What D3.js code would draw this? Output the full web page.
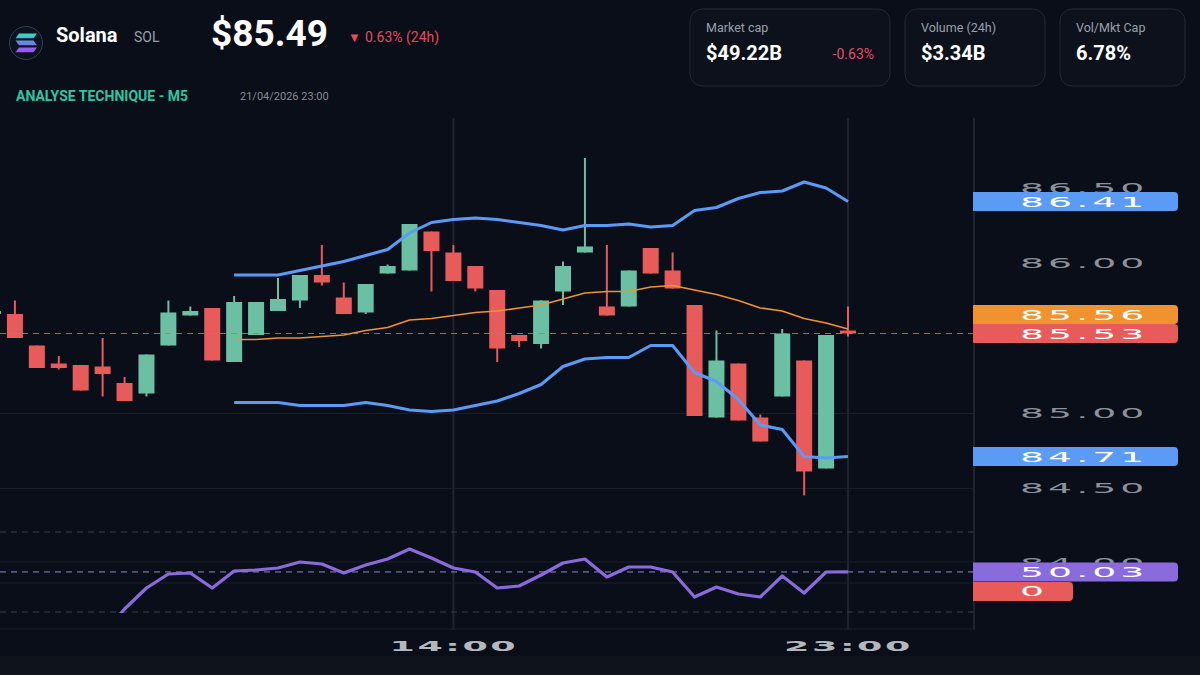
<!DOCTYPE html>
<html>
<head>
<meta charset="utf-8">
<script src="https://cdn.jsdelivr.net/npm/d3@7"></script>
<style>
  body { margin: 0; background: #0a0e18; overflow: hidden; }
  svg { display: block; font-family: Roboto, "Noto Sans", sans-serif; }
</style>
</head>
<body>
<div id="chart"></div>
<script>
const width = 1200;
const height = 675;

// candle times (30 min steps so that 14:00 and 23:00 land where the axis shows them)
const times = ["03:30","04:00","04:30","05:00","05:30","06:00","06:30","07:00","07:30","08:00",
  "08:30","09:00","09:30","10:00","10:30","11:00","11:30","12:00","12:30","13:00",
  "13:30","14:00","14:30","15:00","15:30","16:00","16:30","17:00","17:30","18:00",
  "18:30","19:00","19:30","20:00","20:30","21:00","21:30","22:00","22:30","23:00"];

const open  = [85.66,85.66,85.45,85.33,85.32,85.31,85.20,85.13,85.45,85.65,
  85.70,85.34,85.52,85.68,85.75,85.92,85.77,85.67,85.93,85.95,
  86.21,86.07,85.98,85.82,85.52,85.46,85.81,86.07,85.71,85.71,
  86.10,85.95,85.72,84.97,85.33,84.97,85.11,85.35,84.63,85.55];
const high  = [85.68,85.75,85.45,85.38,85.32,85.50,85.24,85.39,85.75,85.71,
  85.70,85.78,85.74,85.90,85.92,86.12,85.87,85.86,85.99,86.26,
  86.21,86.12,85.98,85.82,85.52,85.75,86.01,86.70,86.12,85.95,
  86.10,86.07,85.72,85.55,85.33,84.99,85.56,85.35,85.52,85.71];
const low   = [85.66,85.50,85.30,85.29,85.15,85.11,85.08,85.11,85.45,85.65,
  85.35,85.34,85.52,85.68,85.70,85.85,85.66,85.66,85.93,85.95,
  85.81,85.88,85.81,85.34,85.44,85.43,85.72,86.07,85.65,85.71,
  85.93,85.83,84.98,84.97,84.95,84.81,85.11,84.45,84.63,85.51];
const close = [85.68,85.50,85.30,85.30,85.15,85.26,85.08,85.39,85.67,85.68,
  85.35,85.74,85.74,85.76,85.92,85.87,85.66,85.86,85.98,86.26,
  86.08,85.88,85.83,85.43,85.48,85.75,85.98,86.11,85.65,85.95,
  85.93,85.83,84.98,85.35,84.95,84.81,85.53,84.61,85.52,85.53];

// Bollinger bands (start at 09:00)
const bbUpper = [null,null,null,null,null,null,null,null,null,null,null,
  85.92,85.92,85.92,85.95,85.98,86.01,86.05,86.09,86.20,86.27,
  86.29,86.30,86.29,86.27,86.25,86.22,86.25,86.25,86.26,86.24,
  86.25,86.35,86.37,86.43,86.47,86.48,86.54,86.50,86.41];
const bbMiddle = [null,null,null,null,null,null,null,null,null,null,null,
  85.49,85.49,85.50,85.50,85.51,85.52,85.55,85.57,85.62,85.63,
  85.65,85.67,85.68,85.70,85.72,85.76,85.80,85.81,85.81,85.84,
  85.85,85.82,85.79,85.75,85.70,85.68,85.63,85.60,85.56];
const bbLower = [null,null,null,null,null,null,null,null,null,null,null,
  85.07,85.07,85.07,85.05,85.05,85.05,85.07,85.05,85.02,85.01,
  85.02,85.05,85.08,85.13,85.19,85.31,85.36,85.37,85.37,85.45,
  85.45,85.27,85.21,85.09,84.92,84.89,84.71,84.70,84.71];

// RSI (starts at 06:00)
const rsi = [null,null,null,null,null,19,31.5,42,49,49.5,
  42,50.5,51,52,55,54,49.5,53.5,56.5,61.5,
  57,52,50,42,43,48.5,54.5,56.5,47.5,52.5,
  52.5,50,37.5,42.5,39,37.5,48,39.5,50,50.03];

const priceTicks = [84.0, 84.5, 85.0, 86.0, 86.5];
const gridTicks = [84.5, 85.0];
const timeTicks = ["14:00", "23:00"];

const cardLabels = ["Market cap", "Volume (24h)", "Vol/Mkt Cap"];
const cardValues = ["$49.22B", "$3.34B", "6.78%"];

const green = "#6bbfa3";
const red = "#e85b5b";
const blue = "#5b9bf6";
const orange = "#f0922e";
const purple = "#8a6bdc";

var svg = d3.select("#chart")
    .append("svg")
    .attr("width", width)
    .attr("height", height);

svg.append("rect").attr("width", width).attr("height", height).attr("fill", "#0a0e18");
svg.append("rect").attr("y", 656).attr("width", width).attr("height", 19).attr("fill", "#0f131c");

// ---------- header ----------
const defs = svg.append("defs");
const grad = defs.append("linearGradient")
    .attr("id", "solGrad")
    .attr("gradientUnits", "userSpaceOnUse")
    .attr("x1", 0).attr("y1", 33).attr("x2", 0).attr("y2", 53);
grad.append("stop").attr("offset", "0%").attr("stop-color", "#35e3b6");
grad.append("stop").attr("offset", "50%").attr("stop-color", "#6f7ff0");
grad.append("stop").attr("offset", "100%").attr("stop-color", "#a04ff4");

svg.append("circle").attr("cx", 26).attr("cy", 43).attr("r", 16.5)
    .attr("fill", "#0d1220").attr("stroke", "#3a3f4d").attr("stroke-width", 1);
const bars = [
    [[19, 33.5], [37, 33.5], [33.5, 38.3], [15.5, 38.3]],
    [[15.5, 40.5], [33.5, 40.5], [37, 45.3], [19, 45.3]],
    [[19, 47.5], [37, 47.5], [33.5, 52.3], [15.5, 52.3]]
];
svg.selectAll(".solbar").data(bars).join("polygon")
    .attr("points", d => d.map(p => p.join(",")).join(" "))
    .attr("fill", "url(#solGrad)");

svg.append("text").attr("x", 56).attr("y", 42)
    .attr("fill", "#ffffff").attr("font-size", 20).attr("font-weight", 700)
    .text("Solana");
svg.append("text").attr("x", 134).attr("y", 42)
    .attr("fill", "#9aa0aa").attr("font-size", 14)
    .text("SOL");
svg.append("text").attr("x", 211).attr("y", 46)
    .attr("fill", "#ffffff").attr("font-size", 37).attr("font-weight", 700)
    .text("$85.49");
svg.append("text").attr("x", 348).attr("y", 42)
    .attr("fill", "#e84a5f").attr("font-size", 13)
    .text("▼");
svg.append("text").attr("x", 365).attr("y", 42)
    .attr("fill", "#e84a5f").attr("font-size", 14)
    .text("0.63% (24h)");

svg.append("text").attr("x", 16).attr("y", 101)
    .attr("fill", "#2ec6a2").attr("font-size", 14.5).attr("font-weight", 700)
    .attr("textLength", 172).attr("lengthAdjust", "spacingAndGlyphs")
    .text("ANALYSE TECHNIQUE - M5");
svg.append("text").attr("x", 240).attr("y", 100)
    .attr("fill", "#858a94").attr("font-size", 11)
    .text("21/04/2026 23:00");

// stat cards
const cardX = [690, 905, 1060];
const cardW = [200, 140, 125];
const cards = svg.append("g").selectAll("g").data(cardLabels).join("g")
    .attr("transform", (d, i) => `translate(${cardX[i]},9)`);
cards.append("rect")
    .attr("width", (d, i) => cardW[i]).attr("height", 77).attr("rx", 12)
    .attr("fill", "#0c111c").attr("stroke", "#222836").attr("stroke-width", 1);
cards.append("text").attr("x", 16).attr("y", 23)
    .attr("fill", "#9aa0ab").attr("font-size", 12.5)
    .text(d => d);
cards.append("text").attr("x", 16).attr("y", 51)
    .attr("fill", "#ffffff").attr("font-size", 20).attr("font-weight", 700)
    .text((d, i) => cardValues[i]);
svg.append("text").attr("x", 874).attr("y", 59).attr("text-anchor", "end")
    .attr("fill", "#e0506a").attr("font-size", 14)
    .text("-0.63%");

// ---------- scales ----------
const x = d3.scalePoint().domain(times).range([-7, 848]);
const y = d3.scaleLinear().domain([84.5, 86.5]).range([488, 188]);
const yRsi = d3.scaleLinear().domain([30, 70]).range([612, 532]);

// ---------- grid / frame ----------
const grid = svg.append("g")
    .call(d3.axisLeft(y).tickValues(gridTicks).tickSize(-973).tickFormat(""));
grid.select(".domain").remove();
grid.selectAll("line").attr("stroke", "#1b1f29").attr("stroke-width", 1);

svg.append("g").selectAll("line").data(timeTicks).join("line")
    .attr("x1", d => x(d)).attr("x2", d => x(d))
    .attr("y1", 118).attr("y2", 630)
    .attr("stroke", "#20252f").attr("stroke-width", 2);

svg.append("line").attr("x1", 974).attr("x2", 974).attr("y1", 118).attr("y2", 630)
    .attr("stroke", "#1e232d").attr("stroke-width", 2);

// RSI pane frame
[562, 583, 629].forEach(v => {
    svg.append("line").attr("x1", 0).attr("x2", 973).attr("y1", v).attr("y2", v)
        .attr("stroke", "#1a1e28").attr("stroke-width", 1);
});
svg.append("g").selectAll("line").data([70, 30]).join("line")
    .attr("x1", 0).attr("x2", 973)
    .attr("y1", d => yRsi(d)).attr("y2", d => yRsi(d))
    .attr("stroke", "#3a3f4b").attr("stroke-width", 1).attr("stroke-dasharray", "6,5");

// ---------- candles ----------
const idx = d3.range(times.length);
const candles = svg.append("g");
candles.selectAll("line").data(idx).join("line")
    .attr("x1", i => x(times[i])).attr("x2", i => x(times[i]))
    .attr("y1", i => y(high[i])).attr("y2", i => y(low[i]))
    .attr("stroke", i => close[i] >= open[i] ? green : red)
    .attr("stroke-width", 2);
candles.selectAll("rect").data(idx).join("rect")
    .attr("x", i => x(times[i]) - 8)
    .attr("width", 16)
    .attr("y", i => y(Math.max(open[i], close[i])))
    .attr("height", i => Math.max(2, Math.abs(y(open[i]) - y(close[i]))))
    .attr("fill", i => close[i] >= open[i] ? green : red);

// ---------- Bollinger bands ----------
const bandLine = d3.line()
    .defined(d => d[1] != null)
    .x(d => x(d[0]))
    .y(d => y(d[1]));

svg.append("path").datum(times.map((t, i) => [t, bbUpper[i]]))
    .attr("d", bandLine).attr("fill", "none")
    .attr("stroke", blue).attr("stroke-width", 3).attr("stroke-linejoin", "round");
svg.append("path").datum(times.map((t, i) => [t, bbLower[i]]))
    .attr("d", bandLine).attr("fill", "none")
    .attr("stroke", blue).attr("stroke-width", 3).attr("stroke-linejoin", "round");
svg.append("path").datum(times.map((t, i) => [t, bbMiddle[i]]))
    .attr("d", bandLine).attr("fill", "none")
    .attr("stroke", orange).attr("stroke-width", 1.7).attr("stroke-linejoin", "round");

// last price line
const last = times.length - 1;
svg.append("line").attr("x1", 0).attr("x2", 973)
    .attr("y1", y(close[last])).attr("y2", y(close[last]))
    .attr("stroke", "#e0646e").attr("stroke-width", 1).attr("stroke-dasharray", "6,5")
    .attr("opacity", 0.85);

// ---------- RSI ----------
defs.append("clipPath").attr("id", "rsiClip")
    .append("rect").attr("x", 0).attr("y", 520).attr("width", 973).attr("height", 93);

svg.append("line").attr("x1", 0).attr("x2", 973)
    .attr("y1", yRsi(rsi[last])).attr("y2", yRsi(rsi[last]))
    .attr("stroke", "#8f86c8").attr("stroke-width", 1).attr("stroke-dasharray", "6,5");

const rsiLine = d3.line()
    .defined(d => d[1] != null)
    .x(d => x(d[0]))
    .y(d => yRsi(d[1]));
svg.append("path").datum(times.map((t, i) => [t, rsi[i]]))
    .attr("clip-path", "url(#rsiClip)")
    .attr("d", rsiLine).attr("fill", "none")
    .attr("stroke", purple).attr("stroke-width", 3.2).attr("stroke-linejoin", "round");

// ---------- price axis ----------
const axisFont = "'DejaVu Sans', Verdana, sans-serif";
const sx = 2.7;
const yAxis = svg.append("g").attr("transform", "translate(973,0)")
    .call(d3.axisRight(y).tickValues(priceTicks).tickSize(0).tickPadding(0).tickFormat(d3.format(".2f")));
yAxis.select(".domain").remove();
yAxis.selectAll("text")
    .attr("x", 47 / sx)
    .attr("transform", `scale(${sx},1)`)
    .attr("text-anchor", "start")
    .attr("fill", "#8c919b")
    .style("font-family", axisFont)
    .style("font-size", "14px")
    .style("letter-spacing", "1.5px");

// value labels on the right
function labelPath(w, h) {
    const r = 4;
    return `M0,0 H${w - r} Q${w},0 ${w},${r} V${h - r} Q${w},${h} ${w - r},${h} H0 Z`;
}
const redY = y(close[last]);
const orangeY = Math.min(y(bbMiddle[last]), redY - 19);
const rsiY = yRsi(rsi[last]);
const labels = [
    { v: bbUpper[last].toFixed(2), cy: y(bbUpper[last]), c: blue, w: 205 },
    { v: bbMiddle[last].toFixed(2), cy: orangeY, c: orange, w: 205 },
    { v: close[last].toFixed(2), cy: redY, c: red, w: 205 },
    { v: bbLower[last].toFixed(2), cy: y(bbLower[last]), c: blue, w: 205 },
    { v: rsi[last].toFixed(2), cy: rsiY, c: purple, w: 205 },
    { v: "0", cy: rsiY + 19.5, c: red, w: 100 }
];
const lab = svg.append("g").selectAll("g").data(labels).join("g")
    .attr("transform", d => `translate(973,${d.cy - 9.5})`);
lab.append("path").attr("d", d => labelPath(d.w, 19)).attr("fill", d => d.c);
lab.append("text")
    .attr("x", 47 / sx).attr("y", 9.5).attr("dy", "0.36em")
    .attr("transform", `scale(${sx},1)`)
    .attr("fill", "#ffffff")
    .style("font-family", axisFont)
    .style("font-size", "14px")
    .style("letter-spacing", "1.5px")
    .text(d => d.v);

// ---------- time axis ----------
const xAxis = svg.append("g").attr("transform", "translate(0,646)")
    .call(d3.axisBottom(x).tickValues(timeTicks).tickSize(0).tickPadding(0));
xAxis.select(".domain").remove();
xAxis.selectAll("text")
    .attr("y", 0).attr("dy", "0.36em")
    .attr("transform", "scale(2.6,1)")
    .attr("text-anchor", "middle")
    .attr("fill", "#b3b7be")
    .style("font-family", axisFont)
    .style("font-weight", "bold")
    .style("font-size", "14px")
    .style("letter-spacing", "1px");
</script>
</body>
</html>
